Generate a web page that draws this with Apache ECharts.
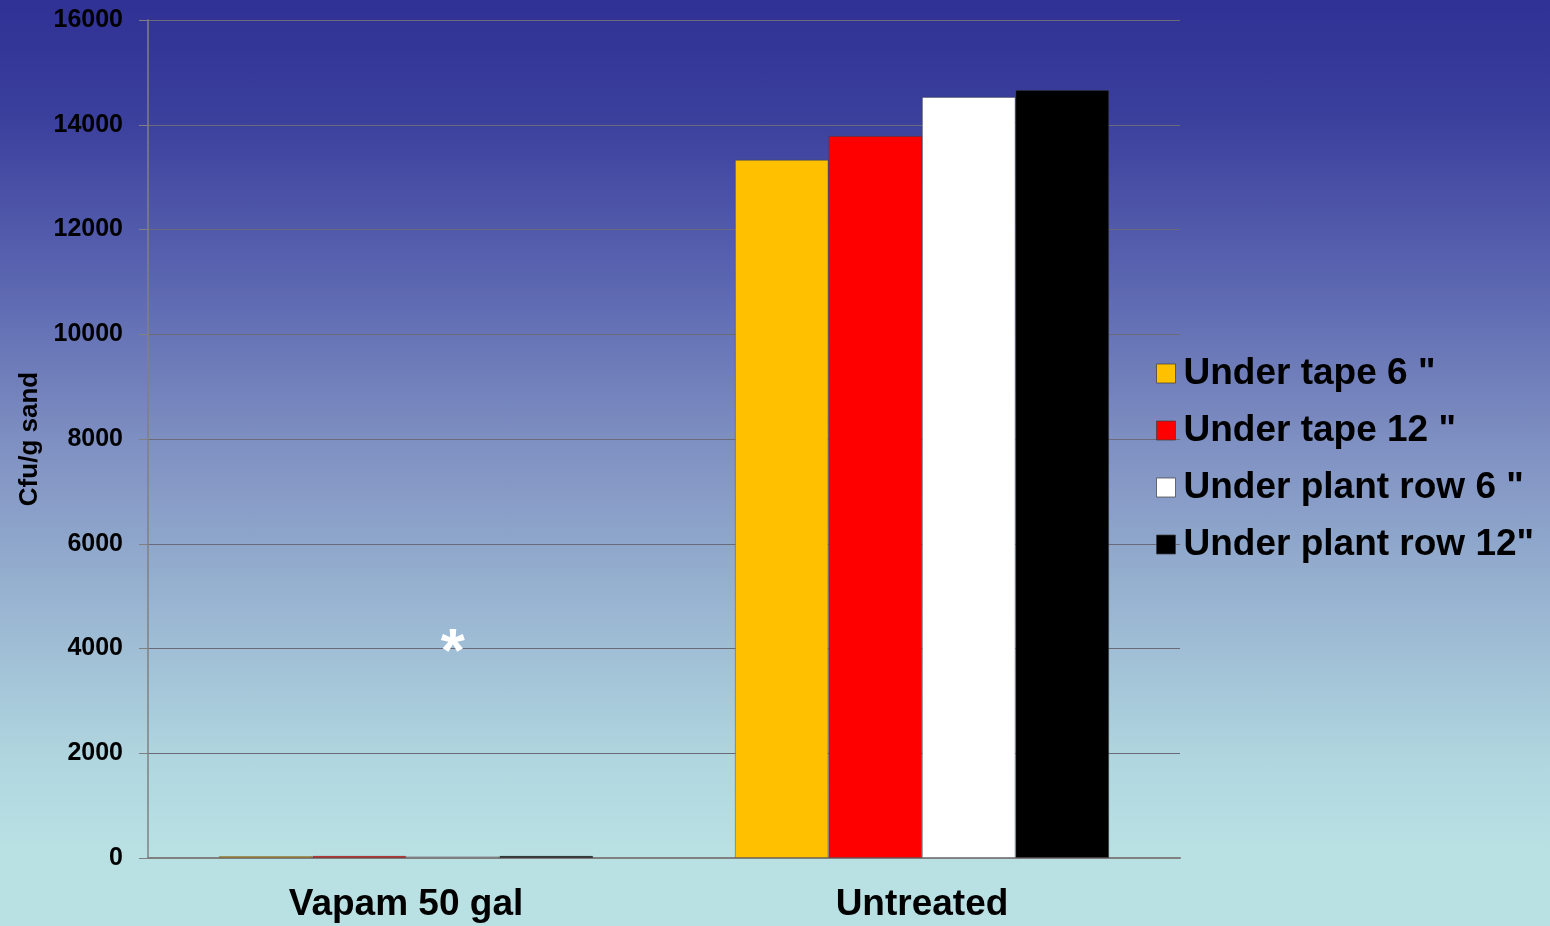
<!DOCTYPE html>
<html>
<head>
<meta charset="utf-8">
<title>Cfu/g sand</title>
<script src="https://cdn.jsdelivr.net/npm/echarts@6/dist/echarts.min.js"></script>
<style>
  html, body { margin: 0; padding: 0; }
  #chart {
    width: 1550px;
    height: 926px;
    background: linear-gradient(to bottom, #303194 0%, #3a3e9c 12%, #5a65b0 30%, #7f90c2 48%, #9ab6d2 66%, #b0d6df 82%, #b9e1e4 92%, #b9e1e4 100%);
  }
</style>
</head>
<body>
<div id="chart"></div>
<script>
const categories = ['Vapam 50 gal', 'Untreated']
const seriesNames = ['Under tape 6 "', 'Under tape 12 "', 'Under plant row 6 "', 'Under plant row 12"']
const seriesColors = ['#ffc000', '#ff0000', '#ffffff', '#000000']
const tapeSix = [35, 13330]
const tapeTwelve = [40, 13785]
const rowSix = [30, 14530]
const rowTwelve = [40, 14660]
const seriesValues = [tapeSix, tapeTwelve, rowSix, rowTwelve]
// asterisk note over the Vapam bars
const noteText = '*'
const noteAt = [0, 3900]

const chart = echarts.init(document.getElementById('chart'))
const font = 'Liberation Sans, Arial, sans-serif'

const series = seriesNames.map((name, i) => {
  const s = {
    name: name,
    type: 'bar',
    barGap: '0%',
    barCategoryGap: '27.5%',
    itemStyle: {
      color: seriesColors[i],
      borderColor: 'rgba(60,60,60,0.55)',
      borderWidth: 0.8
    },
    data: seriesValues[i]
  }
  if (i === 2) {
    s.markPoint = {
      symbol: 'rect',
      symbolSize: 1,
      silent: true,
      itemStyle: { color: 'rgba(0,0,0,0)' },
      label: {
        show: true,
        position: 'inside',
        formatter: noteText,
        color: '#ffffff',
        fontSize: 62,
        fontWeight: 'bold',
        fontFamily: font
      },
      data: [{ coord: noteAt }]
    }
  }
  return s
})

const option = {
  animation: false,
  backgroundColor: 'transparent',
  grid: {
    left: 148,
    right: 370,
    top: 20,
    bottom: 68
  },
  legend: {
    orient: 'vertical',
    left: 1151,
    top: 350,
    itemWidth: 19,
    itemHeight: 19,
    itemGap: 20,
    icon: 'rect',
    itemStyle: {
      borderColor: 'rgba(60,60,60,0.7)',
      borderWidth: 1
    },
    textStyle: {
      color: '#000000',
      fontSize: 37,
      lineHeight: 37,
      fontWeight: 'bold',
      fontFamily: font,
      padding: [0, 0, 0, 3]
    },
    data: seriesNames
  },
  xAxis: {
    type: 'category',
    data: categories,
    axisLine: { lineStyle: { color: '#808080', width: 2 } },
    axisTick: { length: 10, lineStyle: { color: '#808080', width: 2 } },
    axisLabel: {
      color: '#000000',
      fontSize: 37,
      fontWeight: 'bold',
      fontFamily: font,
      margin: 28
    }
  },
  yAxis: {
    type: 'value',
    min: 0,
    max: 16000,
    interval: 2000,
    name: 'Cfu/g sand',
    nameLocation: 'middle',
    nameRotate: 90,
    nameGap: 105,
    nameTextStyle: {
      color: '#000000',
      fontSize: 26,
      fontWeight: 'bold',
      fontFamily: font
    },
    axisLine: { show: true, lineStyle: { color: '#808080', width: 1.5 } },
    axisTick: { show: true, length: 9, lineStyle: { color: '#808080' } },
    axisLabel: {
      color: '#000000',
      fontSize: 25,
      fontWeight: 'bold',
      fontFamily: font,
      margin: 25,
      formatter: (v) => String(v)
    },
    splitLine: { lineStyle: { color: '#6a6a7a', width: 1.2 } }
  },
  series: series
}

chart.setOption(option)
</script>
</body>
</html>
